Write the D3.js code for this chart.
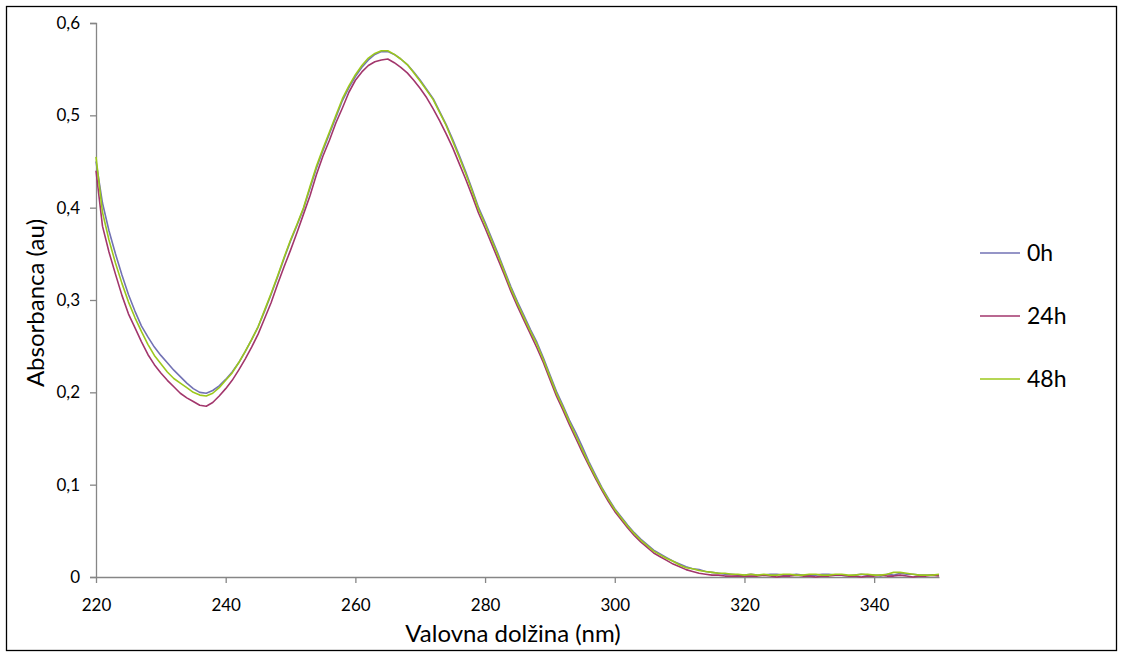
<!DOCTYPE html>
<html><head><meta charset="utf-8">
<script src="https://cdn.jsdelivr.net/npm/d3@7"></script>
<style>
html,body{margin:0;padding:0;background:#fff;}
svg{display:block;}
text{font-family:Lato,"Open Sans","Liberation Sans",sans-serif;fill:#000;}
</style></head>
<body>
<svg id="chart" width="1122" height="657"></svg>
<script>
// Wavelength categories (nm)
const wavelengths = d3.range(220, 351, 1);

// 0h series
const abs0h = [
0.450,0.405,0.375,0.350,0.327,0.306,0.288,0.272,0.260,0.249,
0.240,0.232,0.224,0.217,0.210,0.204,0.200,0.199,0.202,0.207,
0.214,0.222,0.232,0.244,0.257,0.271,0.288,0.306,0.325,0.345,
0.364,0.381,0.399,0.421,0.443,0.462,0.480,0.498,0.516,0.530,
0.542,0.552,0.560,0.566,0.569,0.569,0.566,0.561,0.555,0.547,
0.538,0.528,0.518,0.504,0.490,0.474,0.457,0.439,0.420,0.400,
0.384,0.367,0.350,0.332,0.314,0.298,0.283,0.268,0.254,0.237,
0.219,0.201,0.186,0.170,0.156,0.141,0.125,0.111,0.097,0.085,
0.074,0.065,0.056,0.048,0.041,0.035,0.029,0.025,0.021,0.017,
0.014,0.011,0.009,0.008,0.006,0.005,0.004,0.003,0.003,0.002,
0.002,0.003,0.002,0.002,0.003,0.003,0.002,0.002,0.003,0.002,
0.001,0.002,0.003,0.003,0.002,0.002,0.001,0.002,0.003,0.002,
0.002,0.001,0.003,0.002,0.004,0.003,0.003,0.002,0.002,0.002,
0.002
];

// 24h series
const abs24h = [
0.440,0.380,0.352,0.328,0.305,0.285,0.270,0.255,0.241,0.230,
0.221,0.213,0.206,0.199,0.194,0.190,0.186,0.185,0.189,0.196,
0.204,0.213,0.224,0.236,0.249,0.263,0.280,0.297,0.317,0.336,
0.354,0.373,0.393,0.413,0.436,0.456,0.473,0.492,0.508,0.525,
0.538,0.547,0.554,0.558,0.560,0.561,0.557,0.552,0.546,0.538,
0.529,0.519,0.507,0.494,0.480,0.465,0.448,0.431,0.413,0.394,
0.378,0.361,0.344,0.327,0.309,0.293,0.278,0.263,0.248,0.232,
0.214,0.196,0.181,0.165,0.150,0.135,0.121,0.107,0.094,0.082,
0.071,0.062,0.053,0.045,0.038,0.032,0.026,0.022,0.018,0.014,
0.011,0.008,0.006,0.004,0.003,0.002,0.002,0.001,0.001,0.001,
0.001,0.001,0.001,0.002,0.001,0.000,0.001,0.001,0.002,0.001,
0.001,0.000,0.001,0.001,0.002,0.002,0.001,0.001,0.000,0.001,
0.001,0.002,0.001,0.001,0.002,0.001,0.000,0.001,0.001,0.002,
0.001
];

// 48h series
const abs48h = [
0.455,0.395,0.365,0.340,0.318,0.298,0.281,0.266,0.252,0.240,
0.231,0.222,0.215,0.210,0.205,0.200,0.197,0.196,0.199,0.205,
0.213,0.221,0.232,0.244,0.257,0.271,0.289,0.307,0.326,0.346,
0.365,0.382,0.400,0.423,0.445,0.464,0.482,0.500,0.518,0.532,
0.544,0.554,0.562,0.567,0.570,0.570,0.566,0.561,0.555,0.546,
0.537,0.527,0.517,0.503,0.489,0.472,0.455,0.437,0.418,0.398,
0.382,0.365,0.348,0.330,0.312,0.296,0.281,0.266,0.252,0.235,
0.217,0.199,0.184,0.168,0.153,0.138,0.123,0.109,0.096,0.084,
0.073,0.064,0.055,0.047,0.040,0.034,0.028,0.024,0.020,0.017,
0.013,0.010,0.009,0.007,0.006,0.005,0.004,0.004,0.003,0.003,
0.002,0.003,0.002,0.003,0.002,0.002,0.003,0.003,0.002,0.002,
0.003,0.003,0.002,0.002,0.003,0.003,0.002,0.002,0.003,0.003,
0.002,0.002,0.003,0.005,0.005,0.004,0.003,0.002,0.002,0.002,
0.003
];

const seriesNames = ["0h", "24h", "48h"];
const seriesColors = ["#7272b4", "#a2366c", "#9cc81c"];
const xTicks = [220, 240, 260, 280, 300, 320, 340];
const yTicks = [0, 0.1, 0.2, 0.3, 0.4, 0.5, 0.6];
const xTitle = "Valovna dolžina (nm)";
const yTitle = "Absorbanca (au)";

const svg = d3.select("#chart");

// outer frame
svg.append("rect").attr("x", 6.5).attr("y", 6.5).attr("width", 1110).attr("height", 644)
  .attr("fill", "none").attr("stroke", "#000").attr("stroke-width", 1.3);

const x = d3.scaleLinear().domain([220, 350]).range([96, 939]);
const y = d3.scaleLinear().domain([0, 0.6]).range([577, 23]);

const fmt = d => d === 0 ? "0" : d3.format(".1f")(d).replace(".", ",");

// y axis
const yAxis = svg.append("g").attr("transform", "translate(96,0)")
  .call(d3.axisLeft(y).tickValues(yTicks).tickFormat(fmt).tickSize(6).tickPadding(10));
yAxis.select(".domain").attr("stroke", "#868686").attr("stroke-width", 1.3);
yAxis.selectAll(".tick line").attr("stroke", "#868686").attr("stroke-width", 1.3);
yAxis.selectAll(".tick text").attr("font-size", 17).attr("font-family", "Lato,'Open Sans',sans-serif").attr("fill", "#000");

// x axis
const xAxis = svg.append("g").attr("transform", "translate(0,577)")
  .call(d3.axisBottom(x).tickValues(xTicks).tickFormat(d3.format("d")).tickSize(6).tickPadding(16).tickSizeOuter(0));
xAxis.select(".domain").attr("stroke", "#868686").attr("stroke-width", 1.3);
xAxis.selectAll(".tick line").attr("stroke", "#868686").attr("stroke-width", 1.3);
xAxis.selectAll(".tick text").attr("font-size", 17).attr("font-family", "Lato,'Open Sans',sans-serif").attr("fill", "#000");

// lines
const allSeries = [abs0h, abs24h, abs48h];
const line = d3.line().x((d, i) => x(wavelengths[i])).y(d => y(d));
allSeries.forEach((s, k) => {
  svg.append("path").datum(s)
    .attr("d", line)
    .attr("fill", "none")
    .attr("stroke", seriesColors[k])
    .attr("stroke-width", 1.6)
    .attr("stroke-linejoin", "round");
});

// titles
svg.append("text").attr("x", 513).attr("y", 642).attr("text-anchor", "middle")
  .attr("font-size", 24).text(xTitle);
svg.append("text").attr("transform", "translate(44,303) rotate(-90)").attr("text-anchor", "middle")
  .attr("font-size", 24).text(yTitle);

// legend
const leg = svg.append("g");
seriesNames.forEach((n, k) => {
  const ly = 253 + k * 63;
  leg.append("line").attr("x1", 980).attr("x2", 1020).attr("y1", ly).attr("y2", ly)
    .attr("stroke", seriesColors[k]).attr("stroke-width", 1.6);
  leg.append("text").attr("x", 1027).attr("y", ly).attr("dy", "0.36em")
    .attr("font-size", 23).text(n);
});
</script>
</body></html>
